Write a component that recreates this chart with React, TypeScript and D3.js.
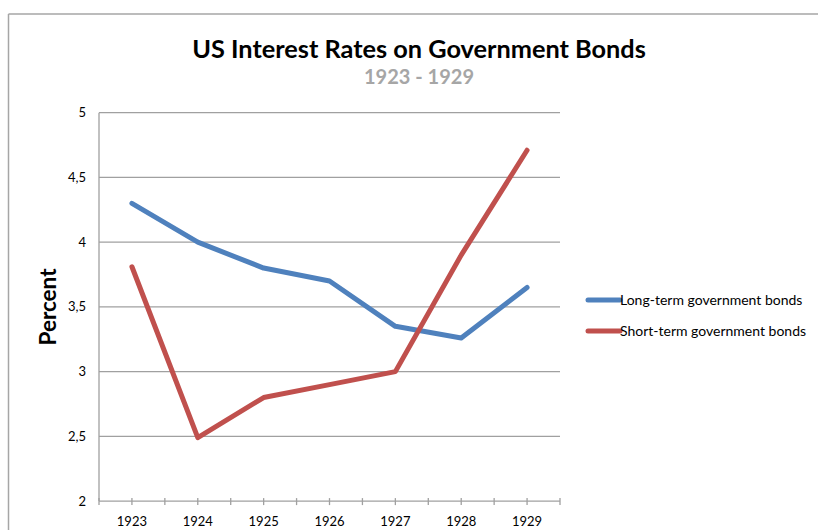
import React from "react";
import * as d3 from "d3";

const years = ["1923", "1924", "1925", "1926", "1927", "1928", "1929"];
const longTerm = [4.3, 4.0, 3.8, 3.7, 3.35, 3.26, 3.65];
const shortTerm = [3.81, 2.49, 2.8, 2.9, 3.0, 3.9, 4.71];
const yTicks = [2, 2.5, 3, 3.5, 4, 4.5, 5];
const seriesNames = ["Long-term government bonds", "Short-term government bonds"];
const seriesColors = ["#4F81BD", "#C0504D"];

const FONT = "Lato, 'Open Sans', sans-serif";

export default function App() {
  const W = 818;
  const H = 530;
  const left = 99;
  const right = 560;
  const top = 112.7;
  const bottom = 501.1;

  const x = d3.scaleBand<string>().domain(years).range([left, right]).padding(0);
  const y = d3.scaleLinear().domain([2, 5]).range([bottom, top]);
  const cx = (yr: string) => (x(yr) as number) + x.bandwidth() / 2;

  const line = d3
    .line<number>()
    .x((_, i) => cx(years[i]))
    .y((d) => y(d));

  const halfTicks: number[] = [];
  for (let i = 0; i <= years.length * 2; i++) {
    halfTicks.push(left + (i * x.bandwidth()) / 2);
  }

  const series = [longTerm, shortTerm];
  const fmt = (v: number) => String(v).replace(".", ",");

  return (
    <svg
      width={W}
      height={H}
      style={{ position: "absolute", left: 0, top: 0, background: "#fff" }}
    >
      <rect x={0} y={0} width={W} height={H} fill="#fff" />
      {/* chart frame */}
      <line x1={8.5} y1={14} x2={W} y2={14} stroke="#A6A6A6" strokeWidth={1.5} />
      <line x1={8.5} y1={14} x2={8.5} y2={H} stroke="#A6A6A6" strokeWidth={1.5} />

      {/* title */}
      <text
        x={419}
        y={58}
        textAnchor="middle"
        fontFamily={FONT}
        fontWeight="bold"
        fontSize={25.3}
        fill="#000"
      >
        US Interest Rates on Government Bonds
      </text>
      <text
        x={419}
        y={84}
        textAnchor="middle"
        fontFamily={FONT}
        fontWeight="bold"
        fontSize={20}
        fill="#A6A6A6"
      >
        1923 - 1929
      </text>

      {/* gridlines */}
      {yTicks.map((t) => (
        <line
          key={"g" + t}
          x1={left}
          x2={right}
          y1={y(t)}
          y2={y(t)}
          stroke="#A0A0A0"
          strokeWidth={1.3}
        />
      ))}
      {/* y axis */}
      <line x1={left} x2={left} y1={top} y2={bottom} stroke="#A0A0A0" strokeWidth={1.3} />
      {yTicks.map((t) => (
        <text
          key={"yl" + t}
          x={86}
          y={y(t)}
          dy="0.35em"
          textAnchor="end"
          fontFamily={FONT}
          fontSize={13}
          fill="#000"
        >
          {fmt(t)}
        </text>
      ))}
      {/* x axis ticks */}
      {halfTicks.map((tx, i) => (
        <line
          key={"xt" + i}
          x1={tx}
          x2={tx}
          y1={bottom - 3}
          y2={bottom + 4}
          stroke="#A0A0A0"
          strokeWidth={1.3}
        />
      ))}
      {years.map((yr) => (
        <text
          key={"xl" + yr}
          x={cx(yr)}
          y={526}
          textAnchor="middle"
          fontFamily={FONT}
          fontSize={13}
          fill="#000"
        >
          {yr}
        </text>
      ))}

      {/* y label */}
      <text
        transform={`translate(56, 307) rotate(-90)`}
        textAnchor="middle"
        fontFamily={FONT}
        fontWeight="bold"
        fontSize={22.5}
        fill="#000"
      >
        Percent
      </text>

      {/* lines */}
      {series.map((s, i) => (
        <path
          key={"s" + i}
          d={line(s) || ""}
          fill="none"
          stroke={seriesColors[i]}
          strokeWidth={5}
          strokeLinejoin="round"
          strokeLinecap="round"
        />
      ))}

      {/* legend */}
      {seriesNames.map((n, i) => (
        <g key={"lg" + i} transform={`translate(0, ${300 + i * 31})`}>
          <line
            x1={588}
            x2={620}
            y1={0}
            y2={0}
            stroke={seriesColors[i]}
            strokeWidth={5}
            strokeLinecap="round"
          />
          <text x={620} y={0} dy="0.35em" fontFamily={FONT} fontSize={14} fill="#000">
            {n}
          </text>
        </g>
      ))}
    </svg>
  );
}
